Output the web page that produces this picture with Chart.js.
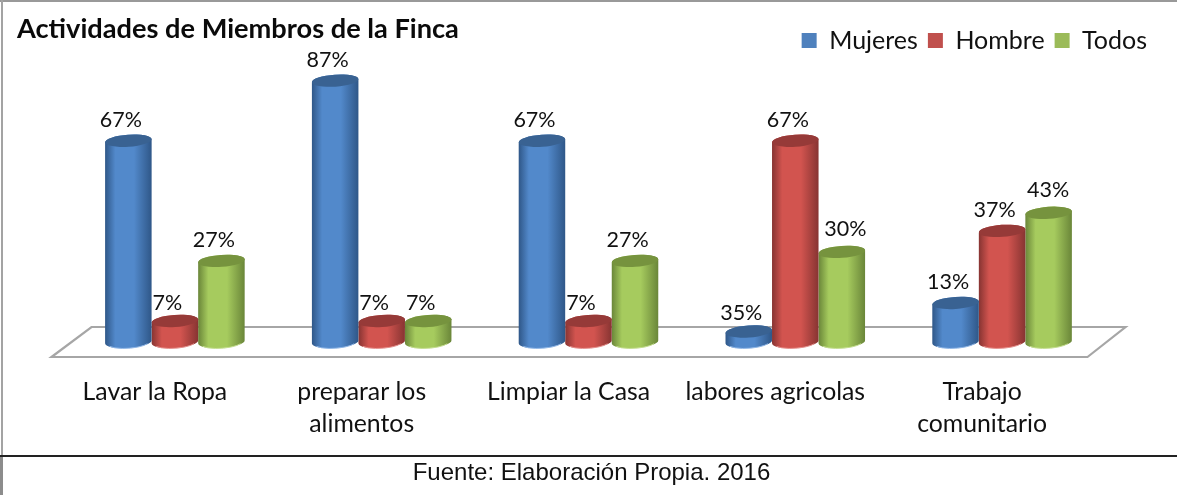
<!DOCTYPE html>
<html><head><meta charset="utf-8">
<style>
html,body{margin:0;padding:0;background:#fff;width:1177px;height:495px;overflow:hidden}
#wrap{position:relative;width:1177px;height:495px}
canvas{position:absolute;left:0;top:0}
#ft{position:absolute;left:0;width:1183px;top:458px;text-align:center;font:24px "Liberation Sans",Arial,sans-serif;color:#111;white-space:nowrap}
.l{position:absolute}
</style>
<script src="https://cdn.jsdelivr.net/npm/chart.js@4/dist/chart.umd.min.js"></script>
</head><body><div id="wrap">
<canvas id="c" width="1177" height="495"></canvas>
<div class="l" style="left:0;top:0;width:1177px;height:2px;background:#999"></div>
<div class="l" style="left:1px;top:0;width:2px;height:456px;background:#a3a3a3"></div>
<div class="l" style="left:0;top:456px;width:3px;height:39px;background:#8c8c8c"></div>
<div class="l" style="left:0;top:455px;width:1177px;height:2px;background:#222"></div>
<div id="ft">Fuente: Elaboración Propia. 2016</div>
</div>
<script>
const titleText = 'Actividades de Miembros de la Finca';
const categories = [['Lavar la Ropa'], ['preparar los','alimentos'], ['Limpiar la Casa'], ['labores agricolas'], ['Trabajo','comunitario']];
const seriesNames = ['Mujeres','Hombre','Todos'];
const mujeres = [67, 87, 67, 3.5, 13];
const hombre  = [7, 7, 7, 67, 37];
const todos   = [27, 7, 27, 30, 43];
const mujeresLabels = ['67%','87%','67%','35%','13%'];
const hombreLabels  = ['7%','7%','7%','67%','37%'];
const todosLabels   = ['27%','7%','27%','30%','43%'];
const dataLabels = [mujeresLabels, hombreLabels, todosLabels];
const swatch = ['#4f81bd','#c0504d','#9bbb59'];
const edge   = ['#2f5788','#873432','#6a8639'];
const mid    = ['#5289cb','#d2544f','#a6cb5e'];
const cap    = ['#396292','#963a38','#76933e'];
const rim    = ['#8fb6e6','#e58f8c','#c3dd8e'];

// Bars stay library elements; only their painting becomes a cylinder.
const ROT = -4 * Math.PI / 180, RY = 6;
Chart.BarElement.prototype.draw = function (ctx) {
  const p = this.getProps(['x','y','base','width']);
  const ds = Math.max(0, swatch.indexOf(this.options.backgroundColor));
  const rx = p.width / 2, dy = rx * Math.sin(ROT);
  const g = ctx.createLinearGradient(p.x - rx, 0, p.x + rx, 0);
  g.addColorStop(0, edge[ds]); g.addColorStop(0.22, mid[ds]);
  g.addColorStop(0.62, mid[ds]); g.addColorStop(1, edge[ds]);
  ctx.save();
  ctx.beginPath();
  ctx.moveTo(p.x - rx, p.y - dy);
  ctx.lineTo(p.x - rx, p.base - dy);
  ctx.ellipse(p.x, p.base, rx, RY, ROT, Math.PI, 0, true);
  ctx.lineTo(p.x + rx, p.y + dy);
  ctx.ellipse(p.x, p.y, rx, RY, ROT, 0, Math.PI, true);
  ctx.closePath();
  ctx.fillStyle = g; ctx.fill();
  ctx.beginPath();
  ctx.ellipse(p.x, p.base + 0.3, rx - 2, RY, ROT, Math.PI * 0.85, Math.PI * 0.15, true);
  ctx.strokeStyle = rim[ds]; ctx.lineWidth = 1; ctx.stroke();
  ctx.beginPath();
  ctx.ellipse(p.x, p.y, rx, RY, ROT, 0, Math.PI * 2);
  ctx.fillStyle = cap[ds]; ctx.fill();
  ctx.restore();
};

const decor = {
  id: 'decor',
  afterLayout(chart) {
    const t = chart.titleBlock, l = chart.legend;
    const th = t.bottom - t.top;
    t.left = 17; t.right = 600; t.top = 13; t.bottom = 13 + th;
    const h = l.bottom - l.top;
    l.left = 780; l.right = 1157; l.top = 18; l.bottom = 18 + h;
  },
  beforeDatasetsDraw(chart) {
    const { ctx, chartArea: a, scales: { y } } = chart;
    const b = y.getPixelForValue(0);
    ctx.save();
    ctx.beginPath();
    ctx.moveTo(a.left - 20, b + 15);
    ctx.lineTo(a.left + 20, b - 15);
    ctx.lineTo(a.right + 20, b - 15);
    ctx.lineTo(a.right - 18, b + 15);
    ctx.closePath();
    ctx.fillStyle = '#fff'; ctx.fill();
    ctx.strokeStyle = '#a6a6a6'; ctx.lineWidth = 2.2; ctx.stroke();
    ctx.restore();
  },
  afterDatasetsDraw(chart) {
    const { ctx, scales: { x, y } } = chart;
    ctx.save();
    ctx.fillStyle = '#111';
    ctx.textAlign = 'center'; ctx.textBaseline = 'middle';
    ctx.font = '21.5px Lato';
    chart.data.datasets.forEach((d, i) => {
      chart.getDatasetMeta(i).data.forEach((el, j) => {
        // The reference moved the last two green labels off the usual spot.
        const moved = i === 2 && j === 3 ? 11 : i === 2 && j === 4 ? 7 : 0;
        const lift = d.data[j] < 10 ? 18 : moved ? 23 : 20.5;
        ctx.fillText(dataLabels[i][j], el.x - 7.5 + moved, el.y - lift);
      });
    });
    ctx.font = '24.8px Lato';
    categories.forEach((lines, j) => {
      const px = x.getPixelForTick(j) - 20;
      lines.forEach((t, k) => ctx.fillText(t, px, y.getPixelForValue(0) + 50 + k * 32));
    });
    ctx.restore();
  }
};

new Chart(document.getElementById('c'), {
  type: 'bar',
  data: {
    labels: categories,
    datasets: [
      { label: seriesNames[0], data: mujeres, backgroundColor: swatch[0], clip: false },
      { label: seriesNames[1], data: hombre,  backgroundColor: swatch[1], clip: false },
      { label: seriesNames[2], data: todos,   backgroundColor: swatch[2], clip: false }
    ]
  },
  options: {
    responsive: false, animation: false, devicePixelRatio: 1,
    layout: { padding: { left: 71.5, right: 71.5, top: 0, bottom: 153 } },
    datasets: { bar: { categoryPercentage: 0.675, barPercentage: 1 } },
    scales: {
      x: { display: false },
      y: { display: false, min: 0, max: 88 }
    },
    plugins: {
      tooltip: { enabled: false },
      title: { display: true, text: titleText, align: 'start', color: '#0a0a0a',
        font: { family: 'Lato', size: 27.2, weight: 'bold' }, padding: 0 },
      legend: { position: 'top', align: 'end',
        labels: { font: { family: 'Lato', size: 25 }, color: '#111', boxWidth: 15, boxHeight: 15, padding: 10 } }
    }
  },
  plugins: [decor]
});
</script></body></html>
